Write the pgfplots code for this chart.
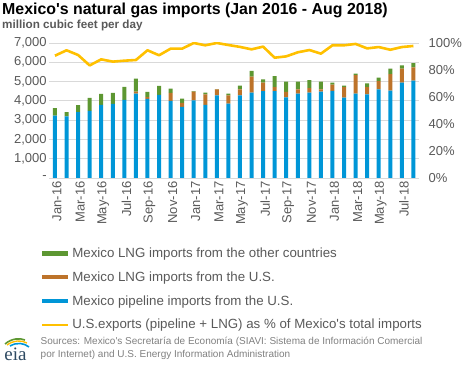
\documentclass[border=0pt]{standalone}
\usepackage{fontspec}
\setmainfont{Liberation Sans}
\newfontfamily\seriffont{Liberation Serif}
\usepackage{pgfplots}
\pgfplotsset{compat=1.18}
\definecolor{eblue}{HTML}{0096D7}
\definecolor{eorange}{HTML}{BD732A}
\definecolor{egreen}{HTML}{5D9732}
\definecolor{eyellow}{HTML}{FFC000}
\definecolor{tgray}{HTML}{595959}
\definecolor{sgray}{HTML}{808080}
\definecolor{gridgray}{HTML}{D9D9D9}
\definecolor{logoblue}{HTML}{2E4A62}

\pgfplotstableread{
x blue orange green pct
0  3240 0   380 90.6
1  3190 0   220 94.6
2  3410 0   370 91.1
3  3480 0   670 83.4
4  3790 0   570 87.9
5  3840 0   570 86.2
6  4050 0   670 86.9
7  4380 100 670 87.4
8  4100 90  280 94.6
9  4310 0   470 90.9
10 4000 410 230 95.8
11 3690 210 220 95.8
12 4030 450 20  100
13 3790 550 90  98.3
14 4280 310 20  100
15 3860 430 90  98.5
16 4280 310 200 97.1
17 4430 830 290 95.3
18 4500 450 170 97.3
19 4500 210 570 89.1
20 4180 290 530 90.1
21 4380 210 410 93.1
22 4430 230 410 94.8
23 4480 110 410 92.1
24 4520 320 110 98.3
25 4170 540 80  98.3
26 4380 950 80  99.3
27 4330 380 190 96.0
28 4600 420 190 97.0
29 4530 850 290 95.0
30 4950 720 170 97.0
31 5050 690 210 97.8
}\datatable

\begin{document}
\begin{tikzpicture}[x=1pt,y=1pt]
\path[use as bounding box] (0pt,0pt) rectangle (468pt,366pt);
\node[anchor=west, inner sep=0pt, font=\bfseries\fontsize{15.9}{18}\selectfont] at (2pt,356pt) {Mexico\textquotesingle s natural gas imports (Jan 2016 - Aug 2018)};
\node[anchor=west, inner sep=0pt, text=tgray, font=\bfseries\fontsize{11.7}{13}\selectfont] at (2pt,340.5pt) {million cubic feet per day};

\begin{axis}[
  at={(49.2pt,188pt)}, anchor=south west,
  width=370pt, height=135pt, scale only axis,
  xmin=-0.5, xmax=31.5, ymin=0, ymax=7000,
  ybar stacked, bar width=4pt,
  axis x line*=bottom, axis y line*=left,
  y axis line style={draw=none},
  x axis line style={draw=gridgray, line width=0.8pt, -},
  ytick={0,1000,...,7000},
  yticklabels={-,{1,000},{2,000},{3,000},{4,000},{5,000},{6,000},{7,000}},
  ytick style={draw=none},
  ymajorgrids, grid style={gridgray, line width=0.8pt},
  yticklabel style={font=\fontsize{13}{15}\selectfont, text=tgray, xshift=1pt},
  xtick={0,2,...,30},
  xticklabels={Jan-16,Mar-16,May-16,Jul-16,Sep-16,Nov-16,Jan-17,Mar-17,May-17,Jul-17,Sep-17,Nov-17,Jan-18,Mar-18,May-18,Jul-18},
  xticklabel style={rotate=90, anchor=east, font=\fontsize{13}{15}\selectfont, text=tgray, yshift=-2pt},
  xtick style={draw=none},
  extra x ticks={-0.5,1.5,...,31.5},
  extra x tick labels={},
  extra x tick style={major tick length=4pt, tick align=outside, tick style={draw=gridgray, line width=0.8pt}, grid=none},
]
\addplot[fill=eblue, draw=none] table[x=x, y=blue] {\datatable};
\addplot[fill=eorange, draw=none] table[x=x, y=orange] {\datatable};
\addplot[fill=egreen, draw=none] table[x=x, y=green] {\datatable};
\end{axis}

\begin{axis}[
  at={(49.2pt,188pt)}, anchor=south west,
  width=370pt, height=135pt, scale only axis,
  xmin=-0.5, xmax=31.5, ymin=0, ymax=100,
  axis x line=none, axis y line*=right,
  y axis line style={draw=none},
  ytick={0,20,...,100},
  yticklabels={0\%,20\%,40\%,60\%,80\%,100\%},
  ytick style={draw=none},
  yticklabel style={font=\fontsize{13}{15}\selectfont, text=tgray, xshift=6pt},
  legend style={at={(axis description cs:-0.026,-0.50)}, anchor=north west, draw=none, fill=none,
    font=\fontsize{13.3}{15}\selectfont, text=tgray, row sep=8.7pt, inner sep=0pt},
  legend cell align=left,
]
\addlegendimage{legend image code/.code={\draw[egreen, line width=4.5pt] (0pt,0pt) -- (26pt,0pt);}}
\addlegendentry{Mexico LNG imports from the other countries}
\addlegendimage{legend image code/.code={\draw[eorange, line width=4.5pt] (0pt,0pt) -- (26pt,0pt);}}
\addlegendentry{Mexico LNG imports from the U.S.}
\addlegendimage{legend image code/.code={\draw[eblue, line width=4.5pt] (0pt,0pt) -- (26pt,0pt);}}
\addlegendentry{Mexico pipeline imports from the U.S.}
\addplot[eyellow, line width=2.6pt, mark=none, line join=round,
  legend image code/.code={\draw[eyellow, line width=2pt] (0pt,0pt) -- (26pt,0pt);}]
  table[x=x, y=pct] {\datatable};
\addlegendentry{U.S.exports (pipeline + LNG) as \% of Mexico\textquotesingle s total imports}
\end{axis}

\node[anchor=north west, inner sep=0pt, align=left, text=sgray, font=\fontsize{10}{13}\selectfont] at (40.5pt,29.5pt)
  {Sources: Mexico\textquotesingle s Secretaría de Economía (SIAVI: Sistema de Información Comercial\\por Internet) and U.S. Energy Information Administration};

% eia logo
\node[inner sep=0pt, text=logoblue, font=\seriffont\fontsize{19}{19}\selectfont] at (15.5pt,12pt) {eia};
\draw[egreen, line width=1.6pt] (5pt,22pt) .. controls (12pt,28pt) and (20pt,28pt) .. (25pt,26pt);
\draw[eyellow, line width=1.4pt] (7pt,21pt) .. controls (14pt,26pt) and (21pt,26pt) .. (27pt,23pt);
\draw[eblue, line width=1.6pt] (10pt,20pt) .. controls (17pt,24pt) and (24pt,23pt) .. (29pt,19pt);
\end{tikzpicture}
\end{document}
